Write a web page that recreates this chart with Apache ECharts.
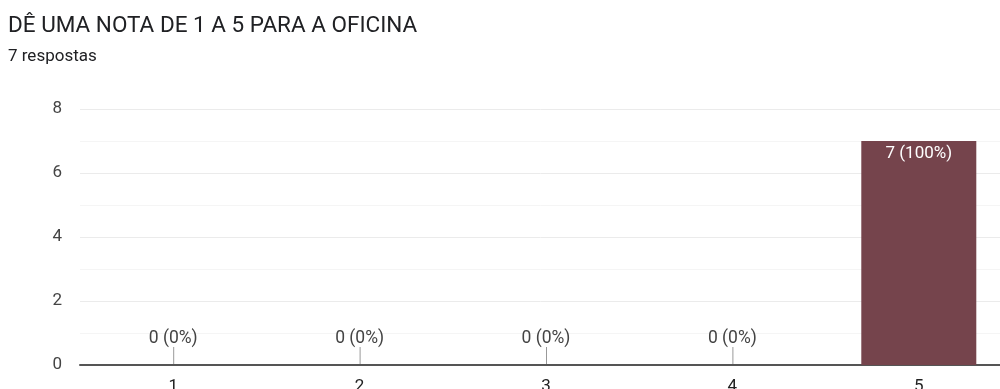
<!DOCTYPE html>
<html>
<head>
<meta charset="utf-8">
<script src="https://cdn.jsdelivr.net/npm/echarts@6/dist/echarts.min.js"></script>
<style>
  html, body { margin: 0; padding: 0; background: #fff; }
  #chart { width: 1000px; height: 389px; }
</style>
</head>
<body>
<div id="chart"></div>
<script>
// dados do gráfico
var categories = ["1", "2", "3", "4", "5"];
var counts = [0, 0, 0, 0, 7];
var total = 7;
var yTicks = [0, 2, 4, 6, 8];

var myChart = echarts.init(document.getElementById("chart"));

function pct(v) {
  return v + " (" + Math.round((v / total) * 100) + "%)";
}

var option = {
  backgroundColor: "#ffffff",
  animation: false,
  title: {
    text: "DÊ UMA NOTA DE 1 A 5 PARA A OFICINA",
    subtext: "7 respostas",
    left: 3,
    top: 10,
    itemGap: 10,
    textStyle: {
      fontFamily: "Roboto",
      fontSize: 22.5,
      fontWeight: "normal",
      color: "#202124"
    },
    subtextStyle: {
      fontFamily: "Roboto",
      fontSize: 17,
      color: "#202124"
    }
  },
  grid: {
    left: 80,
    top: 109,
    width: 932,
    height: 256,
    outerBoundsMode: "none",
    containLabel: false
  },
  xAxis: {
    type: "category",
    data: categories,
    axisTick: { show: false },
    axisLine: { show: true, lineStyle: { color: "#555", width: 2 } },
    axisLabel: {
      fontFamily: "Roboto",
      fontSize: 17,
      color: "#222",
      margin: 13
    }
  },
  yAxis: {
    type: "value",
    min: yTicks[0],
    max: yTicks[yTicks.length - 1],
    interval: 2,
    axisLine: { show: false },
    axisTick: { show: false },
    axisLabel: {
      fontFamily: "Roboto",
      fontSize: 17,
      color: "#444",
      margin: 18
    },
    splitLine: { show: true, lineStyle: { color: "#ebebeb", width: 1 } },
    minorTick: { show: false, splitNumber: 2 },
    minorSplitLine: { show: true, lineStyle: { color: "#f5f5f5", width: 1 } }
  },
  series: [
    {
      type: "bar",
      data: counts,
      barWidth: 115,
      itemStyle: { color: "#75444c" },
      z: 2,
      label: {
        show: true,
        fontFamily: "Roboto",
        fontSize: 17,
        formatter: function (p) {
          return p.value > 0 ? pct(p.value) : "";
        },
        position: "insideTop",
        color: "#fff",
        distance: 4
      }
    },
    {
      // hastes e rótulos das barras com valor zero
      type: "custom",
      data: counts.map(function (v, i) { return [i, v]; }),
      z: 3,
      renderItem: function (params, api) {
        var v = api.value(1);
        if (v !== 0) return null;
        var p = api.coord([api.value(0), 0]);
        return {
          type: "group",
          children: [
            {
              type: "line",
              shape: { x1: p[0] + 0.5, y1: p[1] - 18, x2: p[0] + 0.5, y2: p[1] - 1 },
              style: { stroke: "#999", lineWidth: 1 }
            },
            {
              type: "text",
              x: p[0],
              y: p[1] - 17,
              style: {
                text: pct(v),
                fontFamily: "Roboto",
                fontSize: 17.5,
                fill: "#444",
                align: "center",
                verticalAlign: "bottom"
              }
            }
          ]
        };
      }
    }
  ]
};

myChart.setOption(option);
</script>
</body>
</html>
